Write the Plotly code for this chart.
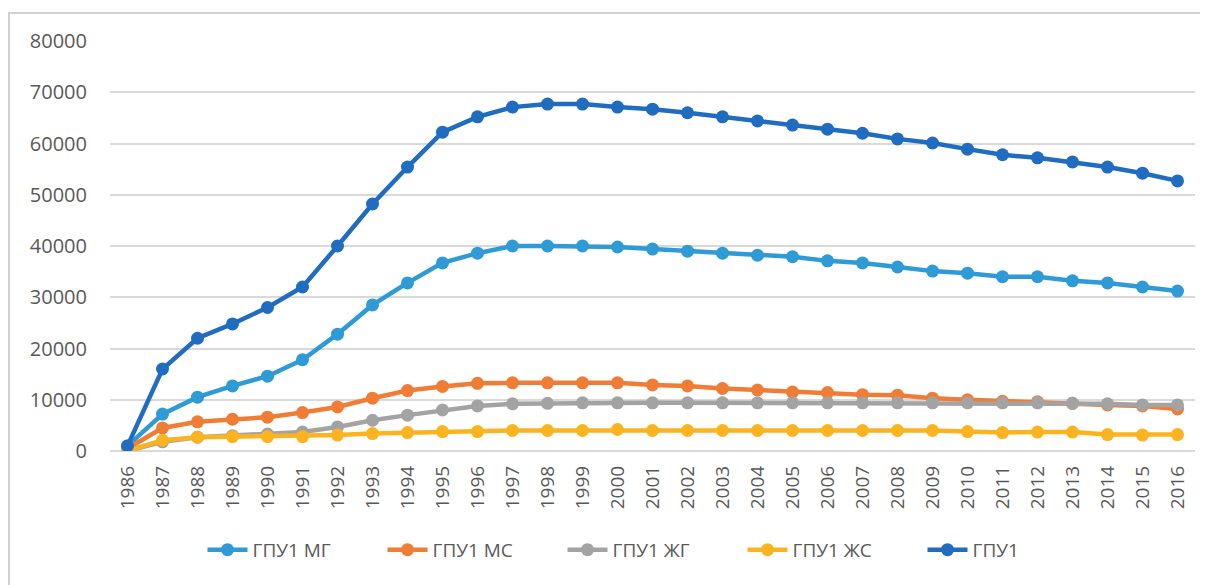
import plotly.graph_objects as go

years = [str(y) for y in range(1986, 2017)]

gpu1_mg = [1000, 7200, 10500, 12700, 14600, 17800, 22800, 28500, 32800, 36700, 38600, 40000, 40000, 40000, 39800,
           39400, 39000, 38600, 38200, 37900, 37100, 36700, 35900, 35100, 34700, 34000, 34000, 33200, 32800, 32000, 31200]
gpu1_ms = [500, 4500, 5700, 6200, 6600, 7500, 8600, 10300, 11800, 12600, 13200, 13300, 13300, 13300, 13300,
           12900, 12700, 12200, 11900, 11500, 11400, 11000, 10900, 10300, 10000, 9700, 9600, 9300, 9000, 8800, 8200]
gpu1_zhg = [0, 1800, 2700, 3000, 3300, 3700, 4700, 6000, 7000, 8000, 8800, 9200, 9300, 9400, 9400,
            9400, 9400, 9400, 9400, 9400, 9400, 9400, 9400, 9400, 9400, 9400, 9400, 9300, 9200, 9000, 9000]
gpu1_zhs = [0, 2100, 2700, 2800, 2800, 2800, 3100, 3400, 3600, 3800, 3800, 4000, 4000, 4000, 4200,
            4000, 4000, 4000, 4000, 4000, 4000, 4000, 4000, 4000, 3800, 3600, 3700, 3700, 3200, 3100, 3200]
gpu1 = [1000, 16000, 22000, 24800, 28000, 32000, 40000, 48200, 55400, 62200, 65200, 67100, 67700, 67700, 67100,
        66700, 66000, 65200, 64400, 63600, 62800, 62000, 60900, 60100, 58900, 57800, 57200, 56400, 55400, 54200, 52700]

series = [
    ("ГПУ1 МГ", gpu1_mg, "#2E9AD6"),
    ("ГПУ1 МС", gpu1_ms, "#EF7D35"),
    ("ГПУ1 ЖГ", gpu1_zhg, "#A3A3A3"),
    ("ГПУ1 ЖС", gpu1_zhs, "#FBB41F"),
    ("ГПУ1", gpu1, "#1F6CC0"),
]

fig = go.Figure()
for name, vals, color in series:
    fig.add_trace(go.Scatter(
        x=years, y=vals, name=name, mode="lines+markers",
        line=dict(color=color, width=4.5),
        marker=dict(color=color, size=13, symbol="circle"),
    ))

fig.update_layout(
    width=1200, height=577,
    margin=dict(l=102, r=13, t=33, b=134, autoexpand=False),
    paper_bgcolor="white", plot_bgcolor="white",
    font=dict(family="Open Sans", color="#595959"),
    showlegend=True,
    legend=dict(orientation="h", x=0.5, xanchor="center", y=-0.241, yanchor="middle",
                font=dict(size=19, color="#595959"), itemwidth=40, tracegroupgap=0,
                entrywidth=125, entrywidthmode="pixels"),
    xaxis=dict(type="category", range=[-0.5, 30.5], tickangle=-90, showgrid=False, automargin=False,
               showline=False, ticks="", tickfont=dict(size=19, color="#595959"), ticklabelstandoff=10),
    yaxis=dict(range=[0, 80000], dtick=10000, showgrid=True, gridcolor="#D9D9D9", gridwidth=1.5,
               zeroline=True, zerolinecolor="#D9D9D9", zerolinewidth=1.5, showline=False, automargin=False,
               tickfont=dict(size=20, color="#595959"), ticklabelstandoff=22, tickformat="d"),
    shapes=[dict(type="rect", xref="paper", yref="paper",
                 x0=-101/1085, x1=1.2, y0=-0.5, y1=1 + 28/410,
                 line=dict(color="#D0D0D0", width=2), fillcolor="rgba(0,0,0,0)", layer="below")],
)

fig.write_html("out.html")
